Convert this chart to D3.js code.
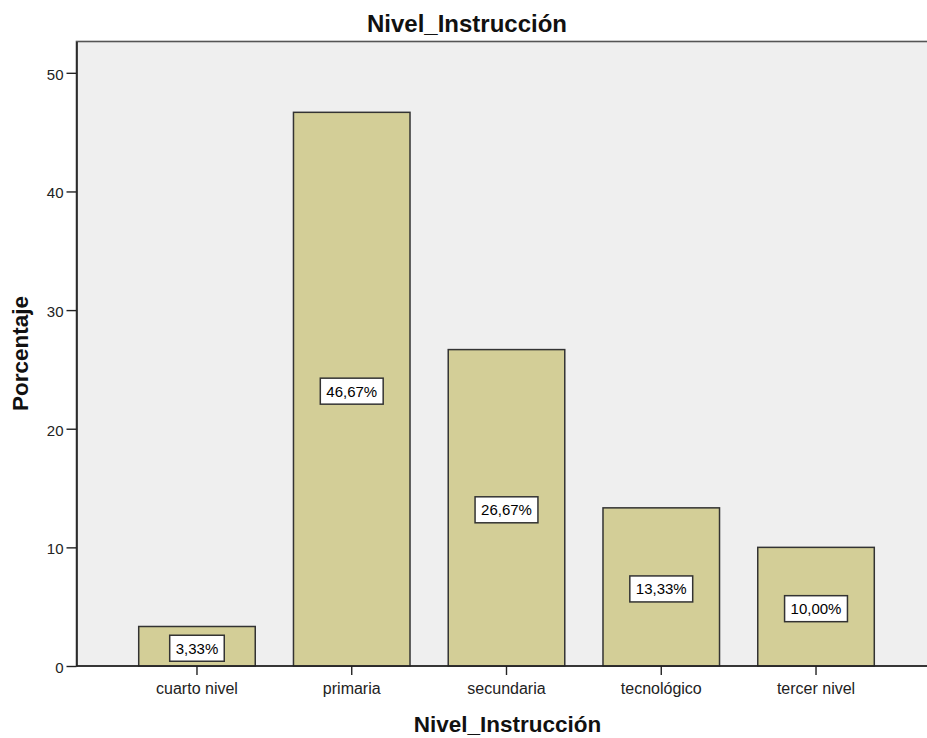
<!DOCTYPE html>
<html><head><meta charset="utf-8">
<script src="https://cdn.jsdelivr.net/npm/d3@7"></script>
<style>
body{margin:0;background:#fff;}
svg{display:block;font-family:"Liberation Sans",Arial,sans-serif;}
</style></head>
<body>
<svg id="chart" width="927" height="738"></svg>
<script>
const categories = ["cuarto nivel","primaria","secundaria","tecnológico","tercer nivel"];
const values = [3.33, 46.67, 26.67, 13.33, 10.00];
const valueLabels = ["3,33%","46,67%","26,67%","13,33%","10,00%"];
const yTicks = [0,10,20,30,40,50];
const title = "Nivel_Instrucción";
const xTitle = "Nivel_Instrucción";
const yTitle = "Porcentaje";

const svg = d3.select("#chart");
const plotLeft = 76.5, plotRight = 945, plotTop = 41.5, plotBottom = 666;

const y = d3.scaleLinear().domain([0, 52.64]).range([plotBottom, plotTop]);
const x = d3.scaleBand().domain(categories).range([119.6, 893.4])
  .paddingInner(0.247).paddingOuter(0.1235);

// plot background
svg.append("rect").attr("x", plotLeft).attr("y", plotTop)
  .attr("width", plotRight - plotLeft).attr("height", plotBottom - plotTop)
  .attr("fill", "#efefef").attr("stroke", "#555").attr("stroke-width", 1.6);

// bars
svg.selectAll("rect.bar").data(values).enter().append("rect")
  .attr("class","bar")
  .attr("x", (d,i) => x(categories[i]))
  .attr("width", x.bandwidth())
  .attr("y", d => y(d))
  .attr("height", d => y(0) - y(d))
  .attr("fill", "#d3ce97").attr("stroke", "#333").attr("stroke-width", 1.5);

// value labels
const lab = svg.selectAll("g.vlab").data(values).enter().append("g")
  .attr("class","vlab")
  .attr("transform", (d,i) => `translate(${x(categories[i]) + x.bandwidth()/2},${y(d/2) + 2})`);
lab.each(function(d,i){
  const g = d3.select(this);
  const t = g.append("text").text(valueLabels[i])
    .attr("text-anchor","middle").attr("dy","0.36em")
    .attr("font-size", 15).attr("fill","#000");
  const w = t.node().getComputedTextLength() + 12;
  g.insert("rect","text").attr("x",-w/2).attr("y",-13).attr("width",w).attr("height",26)
    .attr("fill","#fff").attr("stroke","#333").attr("stroke-width",1.5);
});

// y axis
const yAxis = svg.append("g").attr("transform",`translate(${plotLeft},0)`)
  .call(d3.axisLeft(y).tickValues(yTicks).tickSize(10).tickPadding(3).tickSizeOuter(0));
yAxis.select(".domain").attr("stroke","#222").attr("stroke-width",1.6);
yAxis.selectAll(".tick line").attr("stroke","#222").attr("stroke-width",1.4);
yAxis.selectAll(".tick text").attr("font-size",15).attr("fill","#222")
  .attr("font-family","'Liberation Sans',Arial,sans-serif").attr("dy","0.42em");

// x axis
const xAxis = svg.append("g").attr("transform",`translate(0,${plotBottom})`)
  .call(d3.axisBottom(x).tickSize(9).tickPadding(4).tickSizeOuter(0));
xAxis.select(".domain").attr("d",`M${plotLeft},0H${plotRight}`).attr("stroke","#222").attr("stroke-width",1.6);
xAxis.selectAll(".tick line").attr("stroke","#222").attr("stroke-width",1.4);
xAxis.selectAll(".tick text").attr("font-size",16).attr("fill","#222")
  .attr("font-family","'Liberation Sans',Arial,sans-serif").attr("dy",null).attr("y",28);

// titles
svg.append("text").text(title).attr("x",467).attr("y",32)
  .attr("text-anchor","middle").attr("font-size",24).attr("font-weight","bold").attr("fill","#111");
svg.append("text").text(xTitle).attr("x",507.5).attr("y",731.5)
  .attr("text-anchor","middle").attr("font-size",22.5).attr("font-weight","bold").attr("fill","#111");
svg.append("text").text(yTitle).attr("transform","translate(28,353.5) rotate(-90)")
  .attr("text-anchor","middle").attr("font-size",22.5).attr("font-weight","bold").attr("fill","#111");
</script>
</body></html>
